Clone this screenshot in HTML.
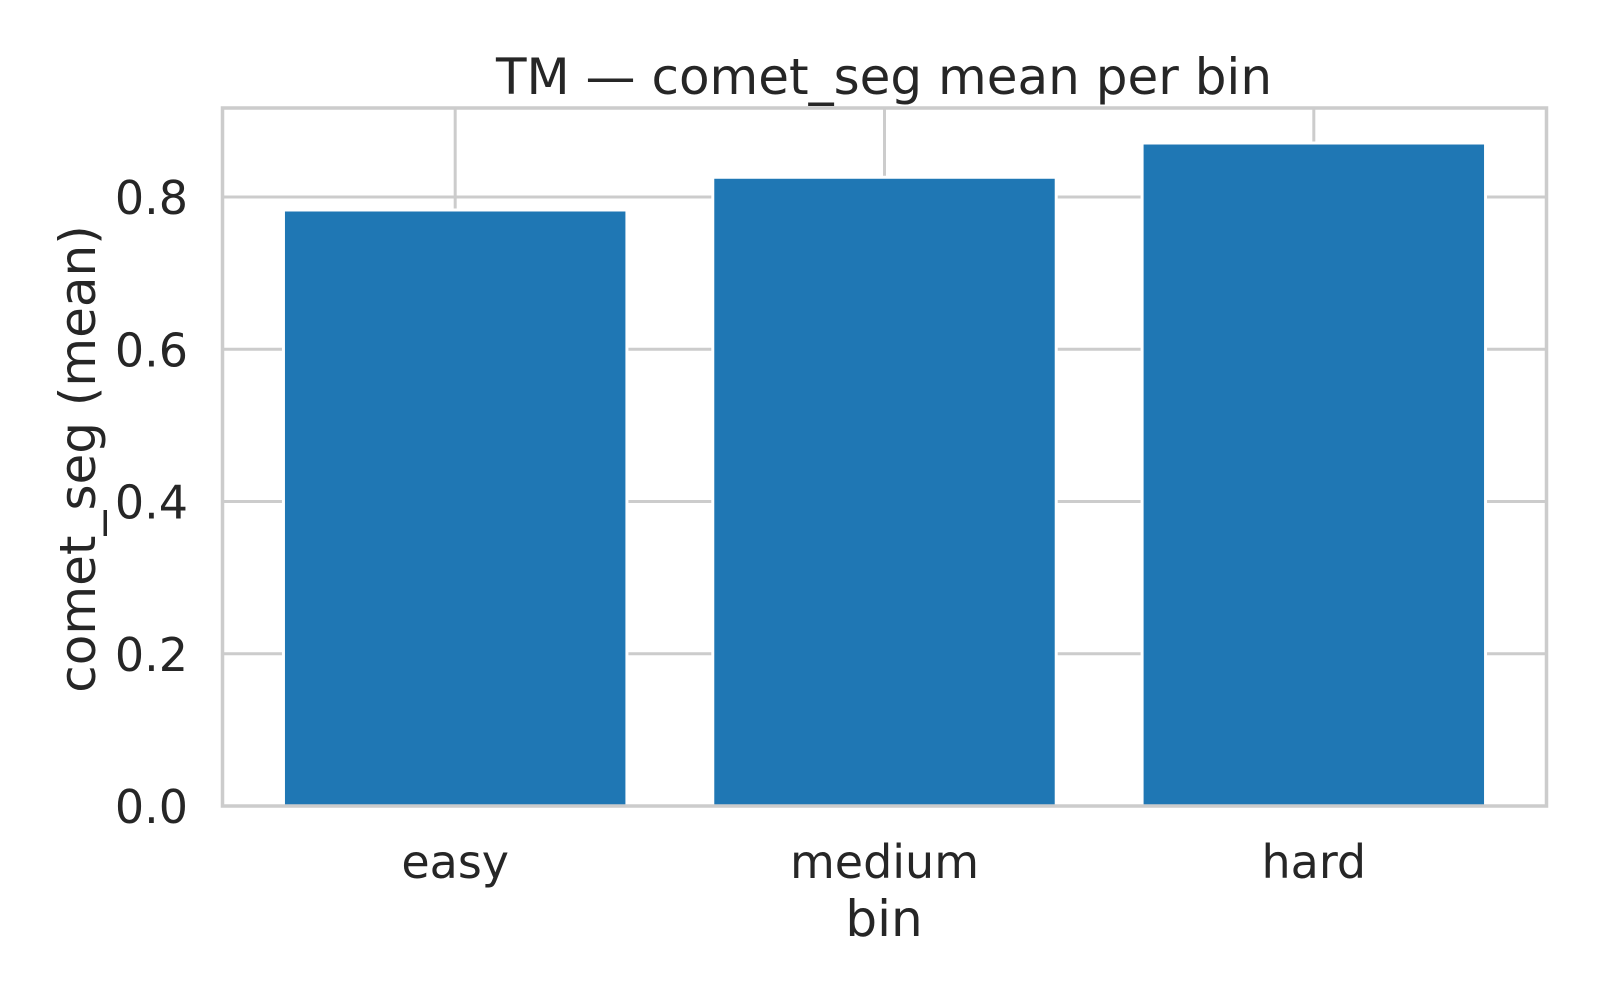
<!DOCTYPE html>
<html><head><meta charset="utf-8"><style>
html,body{margin:0;padding:0;background:#fff;}
svg{display:block;font-family:"DejaVu Sans","Liberation Sans",sans-serif;}
</style></head><body>
<svg id="chart" width="1600" height="1000" viewBox="0 0 1600 1000">
<rect width="1600" height="1000" fill="#fff"/>
<g id="grid"></g>
<g id="bars"></g>
<g id="ticks"></g>
<rect x="222.5" y="108" width="1324" height="698" fill="none" stroke="#cccccc" stroke-width="3.5"/>
<text x="884" y="94" text-anchor="middle" font-size="50" fill="#262626">TM — comet_seg mean per bin</text>
<text x="884" y="936" text-anchor="middle" font-size="50" fill="#262626">bin</text>
<text transform="translate(95,459) rotate(-90)" text-anchor="middle" font-size="50" fill="#262626">comet_seg (mean)</text>
</svg>
<script>
const categories = ["easy", "medium", "hard"];
const values = [0.783, 0.826, 0.871];
const yTicks = [0.0, 0.2, 0.4, 0.6, 0.8];
const yTickLabels = ["0.0", "0.2", "0.4", "0.6", "0.8"];

const NS = "http://www.w3.org/2000/svg";
const L = 222.5, R = 1546.5, T = 108, B = 806;
const yMin = 0, yMax = 0.917;
const xMin = -0.542, xMax = categories.length - 1 + 0.542;
function xs(i){ return L + (i - xMin) / (xMax - xMin) * (R - L); }
function ys(v){ return B - (v - yMin) / (yMax - yMin) * (B - T); }
function mk(tag, attrs, parent){
  const e = document.createElementNS(NS, tag);
  for (const k in attrs) e.setAttribute(k, attrs[k]);
  parent.appendChild(e);
  return e;
}
const grid = document.getElementById('grid');
const bars = document.getElementById('bars');
const ticks = document.getElementById('ticks');
const step = xs(1) - xs(0);
yTicks.forEach((t, i) => {
  const y = ys(t);
  const g = mk('line', {x1: L, x2: R, y1: y, y2: y, stroke: '#cccccc', 'stroke-width': 3}, grid);
  
  
  const tx = mk('text', {x: 188, y: y + 17, 'text-anchor': 'end', 'font-size': 46, fill: '#262626'}, ticks);
  tx.textContent = yTickLabels[i];
  
  
});
categories.forEach((c, i) => {
  const x = xs(i);
  const g = mk('line', {x1: x, x2: x, y1: T, y2: B, stroke: '#cccccc', 'stroke-width': 3}, grid);
  
  
  const w = step * 0.8;
  const b = mk('rect', {x: x - w / 2, y: ys(values[i]), width: w, height: ys(0) - ys(values[i]), fill: '#1f77b4', stroke: '#fff', 'stroke-width': 3}, bars);
  
  
  const tx = mk('text', {x: x, y: 878, 'text-anchor': 'middle', 'font-size': 46, fill: '#262626'}, ticks);
  tx.textContent = c;
  
  
});
</script>
</body></html>
